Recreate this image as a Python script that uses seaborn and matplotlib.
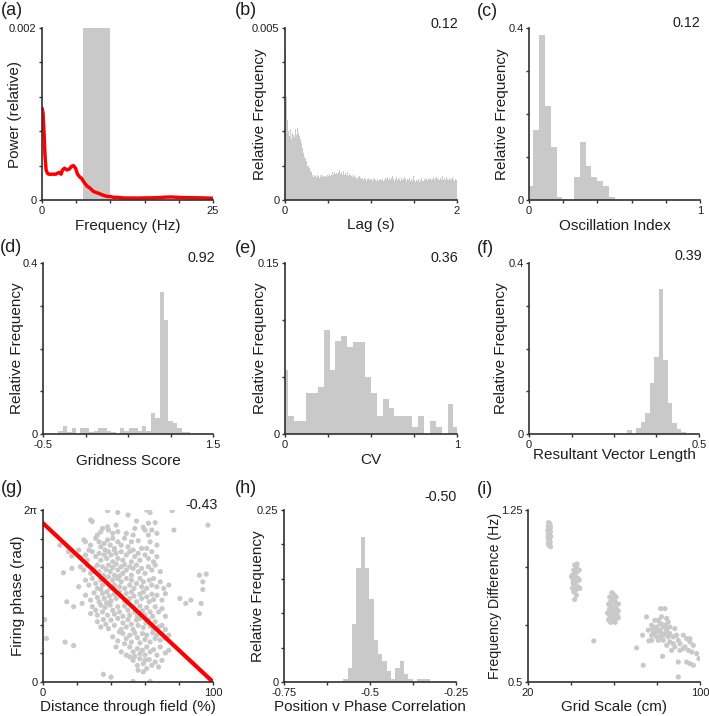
import numpy as np
import pandas as pd
import matplotlib
matplotlib.use("Agg")
import matplotlib.pyplot as plt
import seaborn as sns

# ---------------- data ----------------
# (a) power spectrum
freq_hz = [0, 0.15, 0.3, 0.45, 0.6, 0.8, 1.0, 1.5, 2.0, 2.5, 2.8, 3.0, 3.3, 3.6, 4.0,
           4.3, 4.6, 4.9, 5.2, 5.5, 5.8, 6.2, 6.6, 7.0, 7.5, 8.0, 8.5, 9.0, 9.5, 10.0,
           10.5, 11.0, 12, 13, 14, 15, 16, 17, 18, 19, 20, 21, 22, 23, 24, 25]
power_e4 = [10.7, 10.1, 7.8, 5.0, 3.5, 3.1, 3.0, 3.0, 3.0, 3.2, 3.0, 3.5, 3.7, 3.5, 3.6,
            3.9, 4.0, 3.7, 3.0, 2.7, 2.5, 2.0, 1.6, 1.4, 1.0, 0.85, 0.7, 0.54, 0.43, 0.39,
            0.31, 0.31, 0.23, 0.23, 0.22, 0.24, 0.25, 0.27, 0.33, 0.35, 0.30, 0.27, 0.26,
            0.25, 0.23, 0.20]
theta_band = (6, 10)

# (b) spike autocorrelogram, 0.01 s bins (values x 1e-5)
lag_bin = 0.01
lag_e5 = [437, 300, 233, 190, 200, 185, 205, 178, 195, 188,
          198, 182, 207, 190, 210, 195, 185, 200, 178, 165,
          150, 138, 125, 118, 112, 105, 100, 98, 92, 85,
          80, 72, 76, 68, 74, 70, 66, 73, 69, 71,
          65, 72, 68, 74, 66, 70, 64, 71, 67, 73,
          69, 75, 70, 78, 72, 80, 74, 82, 76, 79,
          84, 75, 80, 86, 77, 82, 73, 79, 85, 74,
          78, 72, 81, 70, 76, 68, 74, 71, 66, 73,
          69, 64, 70, 67, 62, 68, 71, 65, 60, 66,
          63, 58, 65, 61, 56, 62, 59, 64, 57, 60,
          62, 55, 60, 57, 63, 58, 54, 61, 56, 59,
          53, 60, 57, 62, 55, 58, 64, 56, 61, 68,
          59, 65, 57, 63, 70, 58, 62, 55, 60, 66,
          57, 63, 72, 60, 56, 64, 59, 61, 67, 58,
          62, 55, 60, 57, 63, 54, 59, 61, 56, 70,
          58, 52, 57, 62, 55, 60, 53, 58, 63, 56,
          59, 54, 61, 57, 64, 58, 62, 56, 60, 65,
          57, 61, 66, 58, 63, 55, 68, 60, 62, 57,
          64, 59, 61, 70, 58, 63, 57, 66, 60, 72,
          59, 64, 57, 62, 66, 58, 61, 55, 60, 58]

# (c) oscillation index
osc_start, osc_width = -0.009, 0.034
osc_freq = [0.033, 0.163, 0.383, 0.219, 0.124, 0.006, 0, 0, 0.054, 0.136, 0.08,
            0.054, 0.045, 0.033, 0.006]

# (d) gridness score
grid_start, grid_width = -0.318, 0.0517
grid_freq = [0.008, 0.019, 0.004, 0.013, 0, 0.013, 0.013, 0.004, 0.008, 0.013,
             0.013, 0.008, 0.004, 0, 0.013, 0.008, 0.013, 0.013, 0.008, 0.019,
             0.008, 0.049, 0.037, 0.332, 0.267, 0.030, 0.025, 0.013, 0.004, 0.004]

# (e) CV
cv_start, cv_width = -0.0153, 0.0343
cv_freq = [0.056, 0.016, 0.011, 0.011, 0.036, 0.036, 0.041, 0.091, 0.056, 0.082,
           0.086, 0.076, 0.081, 0.081, 0.05, 0.036, 0.016, 0.031, 0.023, 0.016,
           0.016, 0.016, 0.006, 0.016, 0, 0.011, 0.006, 0, 0.026, 0.006]

# (f) resultant vector length
rvl_start, rvl_width = 0.289, 0.0132
rvl_freq = [0.009, 0, 0.014, 0.028, 0.049, 0.119, 0.179, 0.34, 0.174, 0.073,
            0.026, 0.0125, 0.005]

# (h) position v phase correlation
pvp_start, pvp_width = -0.5776, 0.0126
pvp_freq = [0.004, 0.020, 0.085, 0.165, 0.211, 0.165, 0.12, 0.0605, 0.040, 0.030,
            0.0155, 0.004, 0.020, 0.030, 0.011, 0.004, 0, 0.004, 0.004, 0.004]

# (g) phase precession scatter: (distance %, phase rad)
g_points = [
    (38, 6.26), (44, 6.19), (50, 6.10), (61, 6.28), (63, 6.19), (76, 6.26), (28, 5.92), (29, 5.86),
    (55, 5.88), (62, 5.80), (66, 5.82),
    (43, 5.73), (38, 5.67), (38.5, 5.55), (34, 5.49), (35, 5.61), (44, 5.49), (49, 5.43), (54, 5.61),
    (59, 5.65), (60, 5.55), (64, 5.55), (77, 5.55), (97, 5.73), (41, 5.43), (32, 5.37), (53, 5.37),
    (62, 5.37), (67, 5.43),
    (10, 5.00), (15, 4.88), (24, 5.19), (25, 5.12), (28, 5.00), (31, 5.25), (33, 5.12), (34, 4.94),
    (36, 5.06), (38, 5.19), (39.5, 5.00), (41, 5.25), (42, 4.88), (44, 5.12), (46, 5.00), (48, 5.25),
    (50, 4.94), (52, 5.12), (56, 5.16), (58, 4.88), (61, 4.88), (63, 5.12), (67, 5.00), (27, 4.82),
    (21, 4.82),
    (15, 4.76), (17, 4.60), (22, 4.55), (25, 4.64), (26, 4.45), (29, 4.76), (31, 4.58), (33, 4.70),
    (34, 4.45), (36, 4.64), (37.5, 4.51), (38.5, 4.76), (40, 4.64), (41, 4.39), (43, 4.70), (44, 4.51),
    (46, 4.76), (47, 4.45), (49, 4.64), (51, 4.76), (52, 4.39), (54, 4.58), (56, 4.70), (57, 4.45),
    (60, 4.64), (62, 4.51), (64, 4.76), (65, 4.39), (67, 4.58), (42, 4.82), (36.5, 4.82), (53, 4.82),
    (12, 3.99), (17, 4.15), (22, 4.21), (24, 4.09), (26, 4.27), (28, 3.97), (30, 4.15), (32, 4.27),
    (33, 4.03), (35, 4.21), (35.5, 3.90), (37, 4.11), (38.5, 4.27), (39.5, 4.03), (41, 4.18), (42, 3.90),
    (43, 4.31), (44, 4.09), (46, 4.21), (47, 3.97), (48, 4.29), (49, 4.09), (51, 4.21), (52, 3.90),
    (53, 4.15), (55, 4.27), (56, 4.03), (58, 4.15), (60, 3.97), (62, 4.21), (64, 4.09), (66, 4.27),
    (69, 4.03), (92, 3.90), (96, 3.94), (94, 3.66), (38.5, 3.84), (45, 3.87),
    (21, 3.48), (25, 3.72), (27, 3.54), (29, 3.78), (31, 3.60), (32, 3.42), (34, 3.72), (35, 3.54),
    (36.5, 3.78), (38, 3.60), (39.5, 3.42), (41, 3.72), (42, 3.54), (44, 3.78), (45, 3.48), (46, 3.66),
    (48, 3.42), (49, 3.78), (51, 3.54), (52, 3.72), (53.5, 3.42), (55, 3.60), (57, 3.78), (58, 3.48),
    (59, 3.66), (61, 3.42), (62.5, 3.72), (64, 3.54), (65, 3.78), (67, 3.48), (69, 3.66), (71, 3.42),
    (74, 3.54), (94, 3.38), (34, 3.38), (42, 3.38),
    (25, 3.17), (28, 2.99), (30, 3.26), (32, 3.09), (33, 2.93), (35, 3.23), (36, 3.05), (37.5, 3.29),
    (39, 3.14), (40, 2.96), (42, 3.21), (43, 3.05), (45, 3.29), (46, 3.14), (48, 2.96), (49, 3.23),
    (51, 3.05), (52, 3.29), (53.5, 3.14), (55, 2.93), (57, 3.21), (58, 3.05), (59, 3.29), (61, 3.11),
    (62.5, 2.93), (64, 3.21), (65, 3.01), (67, 3.17), (70, 2.99), (72, 3.23), (80.5, 3.05), (87, 2.99),
    (93, 2.87), (49, 2.89), (37.5, 2.89),
    (18, 2.75), (23, 2.87), (28, 2.50), (29, 2.75), (31, 2.62), (32, 2.44), (34, 2.81), (35, 2.56),
    (36.5, 2.72), (38, 2.44), (39.5, 2.81), (41, 2.62), (42, 2.48), (44, 2.75), (45, 2.56), (47, 2.40),
    (48, 2.77), (50, 2.62), (51, 2.44), (53, 2.75), (54, 2.56), (55.5, 2.40), (57, 2.77), (58.5, 2.60),
    (60, 2.44), (61, 2.72), (63, 2.56), (64.5, 2.40), (66, 2.75), (68, 2.56), (70, 2.68), (72, 2.40),
    (84, 2.87), (92, 2.50), (14, 2.93),
    (32, 2.20), (34, 2.01), (35.5, 2.28), (37, 2.11), (38.5, 1.95), (40, 2.26), (42, 2.07), (44, 2.32),
    (46, 1.92), (47, 2.16), (49, 2.01), (50, 2.28), (52, 2.11), (53, 1.92), (55, 2.26), (56, 2.07),
    (57, 2.32), (59, 1.99), (60.5, 2.16), (62, 2.28), (63, 2.04), (65, 1.92), (66, 2.20), (68, 2.01),
    (70, 2.07), (72, 1.92), (1, 2.28),
    (13, 1.46), (41, 1.65), (44, 1.50), (47, 1.77), (49, 1.59), (51, 1.71), (52, 1.46), (54, 1.79),
    (55.5, 1.62), (57, 1.43), (58.5, 1.77), (60, 1.55), (61, 1.71), (63, 1.46), (64.5, 1.79), (66, 1.59),
    (67, 1.71), (69, 1.53), (70, 1.77), (72, 1.59), (74, 1.71), (48, 1.40), (45, 1.83), (2, 1.59),
    (18, 1.33), (43, 1.28), (46, 1.10), (49, 0.98), (51, 1.28), (53, 1.10), (54, 0.94), (55.5, 1.22),
    (57, 1.04), (58.5, 1.16), (60, 0.98), (61, 1.28), (63, 1.10), (65, 1.18), (67, 0.98), (69, 1.28),
    (72, 1.06), (74, 1.16), (51, 0.92),
    (53, 0.79), (55.5, 0.61), (57, 0.85), (59, 0.67), (61, 0.49), (62.5, 0.82), (64, 0.61), (66, 0.73),
    (68, 0.55), (70, 0.79), (60, 0.79), (56, 0.43),
    (35.5, 0.28), (40, 0.18), (53, 0.02), (63, 0.02), (59, 0.37),
]
fit_x = [0, 100]
fit_y = [5.80, 0.0]

# (i) grid scale vs frequency difference: (cm, Hz)
i_points = [
    (29.6, 1.195), (30.2, 1.19), (29.4, 1.18), (30.5, 1.175), (29.8, 1.17), (29.2, 1.16), (30.4, 1.155),
    (29.9, 1.15), (29.5, 1.14), (30.6, 1.135), (29.3, 1.13), (30.1, 1.125), (29.7, 1.12), (30.3, 1.11),
    (29.4, 1.105), (30.0, 1.10), (29.8, 1.095), (30.5, 1.09), (29.6, 1.15), (30.2, 1.165),
    (41.7, 1.010), (42.5, 1.002), (41.3, 0.988), (42.8, 0.981), (40.7, 0.966), (42.2, 0.959), (43.3, 0.951),
    (41.0, 0.944), (42.5, 0.937), (41.7, 0.922), (43.3, 0.915), (40.7, 0.908), (42.2, 0.900), (44.1, 0.908),
    (41.3, 0.893), (42.5, 0.879), (41.7, 0.860), (40.2, 0.959), (43.8, 0.988), (41.9, 0.973), (42.8, 1.014),
    (41.0, 0.930), (43.8, 0.944),
    (59, 0.89), (60, 0.88), (58, 0.87), (61, 0.87), (59.5, 0.86), (58.5, 0.85), (60.5, 0.85), (62, 0.84),
    (57.5, 0.84), (59, 0.83), (60, 0.83), (61, 0.82), (58, 0.82), (59.5, 0.81), (62, 0.81), (57, 0.80),
    (58.5, 0.80), (60.5, 0.80), (61.5, 0.79), (59, 0.79), (58, 0.78), (60, 0.78), (62, 0.78), (59, 0.77),
    (57.5, 0.77), (60.5, 0.76), (58.5, 0.76), (61, 0.775), (59.5, 0.795), (57.5, 0.805), (60, 0.815),
    (50.6, 0.679),
    (75.1, 0.784), (77.5, 0.748), (73.3, 0.704), (70.5, 0.649), (73.6, 0.573), (76.2, 0.679), (79.0, 0.769),
    (79.8, 0.740), (80.6, 0.769), (81.4, 0.726), (82.1, 0.752), (81.7, 0.820), (83.7, 0.820), (82.9, 0.704),
    (84.5, 0.726), (85.2, 0.697), (79.8, 0.697), (78.3, 0.711), (77.5, 0.704), (80.6, 0.682), (82.9, 0.682),
    (86.0, 0.675), (84.5, 0.660), (82.6, 0.612), (87.6, 0.667), (89.1, 0.704), (89.9, 0.682), (88.3, 0.653),
    (90.7, 0.667), (92.2, 0.704), (93.8, 0.689), (93.0, 0.653), (95.3, 0.675), (96.9, 0.660), (96.1, 0.631),
    (98.4, 0.624), (99.5, 0.602), (95.3, 0.689), (89.9, 0.587), (93.8, 0.587), (95.3, 0.580), (96.9, 0.573),
    (89.9, 0.522), (92.2, 0.646), (86.8, 0.638), (90.7, 0.638), (94.6, 0.638), (87.6, 0.697), (86.0, 0.740),
    (88.3, 0.733), (85.2, 0.762), (83.7, 0.748), (80.6, 0.726), (82.1, 0.711), (79.0, 0.733), (77.9, 0.729),
    (81.4, 0.755), (83.7, 0.711), (84.8, 0.740), (86.0, 0.711), (81.4, 0.697), (79.8, 0.718), (82.9, 0.740),
    (84.5, 0.777), (82.1, 0.784), (77.5, 0.682), (75.9, 0.726),
]

# ---------------- style ----------------
sns.set_style("ticks")
plt.rcParams["font.family"] = ["Liberation Sans", "DejaVu Sans"]
TXT = "#1e1e1e"
SPINE = "#303030"
GRAY = "#c9c9c9"
RED = "#ff0000"

W, H = 709, 716
fig = plt.figure(figsize=(W / 100, H / 100), dpi=100)


def add_ax(l, t, r, b):
    return fig.add_axes([l / W, 1 - b / H, (r - l) / W, (b - t) / H])


def style(ax, xlim, ylim, xticks, xlabels, yticks, ylabels, xlabel, ylabel, ylab_x, xlab_y,
          ylab_size=11):
    ax.set_xlim(xlim)
    ax.set_ylim(ylim)
    ax.set_xticks(xticks)
    ax.set_xticklabels(xlabels)
    ax.set_yticks(yticks)
    ax.set_yticklabels(ylabels)
    for s in ["top", "right"]:
        ax.spines[s].set_visible(False)
    for s in ["left", "bottom"]:
        ax.spines[s].set_linewidth(1.2)
        ax.spines[s].set_color(SPINE)
    ax.tick_params(length=2.5, width=1.0, pad=1.5, labelsize=8, color=SPINE, labelcolor=TXT)
    ax.set_xlabel(xlabel, fontsize=11, color=TXT)
    ax.set_ylabel(ylabel, fontsize=ylab_size, color=TXT)
    ax.xaxis.label.set_va("center")
    ax.yaxis.label.set_va("center")
    ax.xaxis.set_label_coords(0.5, xlab_y)
    ax.yaxis.set_label_coords(ylab_x, 0.5)
    ax.grid(False)


def labels_ends(ticks, first, last):
    return [first] + [""] * (len(ticks) - 2) + [last]


def hist(ax, start, width, freqs):
    edges = start + width * np.arange(len(freqs) + 1)
    centers = edges[:-1] + width / 2
    df = pd.DataFrame({"x": centers, "w": freqs})
    sns.histplot(data=df, x="x", weights="w", bins=edges.tolist(), ax=ax, color=GRAY,
                 alpha=1, edgecolor="none", linewidth=0, stat="count")


def note(ax, txt, dx, dy):
    ax.text(1.0 + dx, 1.0 + dy, txt, transform=ax.transAxes, ha="right", va="baseline",
            fontsize=10.3, color=TXT)


def panel_label(x, y, s):
    fig.text(x / W, 1 - y / H, s, fontsize=13, ha="left", va="top", color=TXT)


# (a)
ax = add_ax(42, 28, 213, 200)
ax.axvspan(theta_band[0], theta_band[1], color=GRAY, lw=0, zorder=0)
df_a = pd.DataFrame({"f": freq_hz, "p": np.array(power_e4) * 1e-4})
sns.lineplot(data=df_a, x="f", y="p", ax=ax, color=RED, linewidth=2.5, sort=False, estimator=None)
xt = [0, 5, 10, 15, 20, 25]
yt = [0, 0.0004, 0.0008, 0.0012, 0.0016, 0.002]
style(ax, (0, 25), (0, 0.002), xt, labels_ends(xt, "0", "25"), yt, labels_ends(yt, "0", "0.002"),
      "Frequency (Hz)", "Power (relative)", -0.158, -0.154)

# (b)
ax = add_ax(285, 28, 457, 200)
hist(ax, 0.0, lag_bin, np.array(lag_e5) * 1e-5)
xt = [0, 0.5, 1, 1.5, 2]
yt = [0, 0.001, 0.002, 0.003, 0.004, 0.005]
style(ax, (0, 2), (0, 0.005), xt, labels_ends(xt, "0", "2"), yt, labels_ends(yt, "0", "0.005"),
      "Lag (s)", "Relative Frequency", -0.145, -0.148)
note(ax, "0.12", 0.005, 0.0)

# (c)
ax = add_ax(529, 28, 700, 200)
hist(ax, osc_start, osc_width, osc_freq)
xt = [0, 0.2, 0.4, 0.6, 0.8, 1.0]
yt = [0, 0.1, 0.2, 0.3, 0.4]
style(ax, (0, 1), (0, 0.4), xt, labels_ends(xt, "0", "1"), yt, labels_ends(yt, "0", "0.4"),
      "Oscillation Index", "Relative Frequency", -0.16, -0.15)
note(ax, "0.12", 0.0, 0.006)

# (d)
ax = add_ax(43, 263, 213, 434)
hist(ax, grid_start, grid_width, grid_freq)
xt = [-0.5, 0, 0.5, 1.0, 1.5]
style(ax, (-0.5, 1.5), (0, 0.4), xt, labels_ends(xt, "-0.5", "1.5"), yt, labels_ends(yt, "0", "0.4"),
      "Gridness Score", "Relative Frequency", -0.155, -0.157)
note(ax, "0.92", 0.015, 0.004)

# (e)
ax = add_ax(285, 263, 457, 434)
hist(ax, cv_start, cv_width, cv_freq)
xt = [0, 0.25, 0.5, 0.75, 1.0]
yt2 = [0, 0.05, 0.1, 0.15]
style(ax, (0, 1), (0, 0.15), xt, labels_ends(xt, "0", "1"), yt2, labels_ends(yt2, "0", "0.15"),
      "CV", "Relative Frequency", -0.145, -0.15)
note(ax, "0.36", 0.005, 0.004)

# (f)
ax = add_ax(529, 263, 699, 434)
hist(ax, rvl_start, rvl_width, rvl_freq)
xt = [0, 0.125, 0.25, 0.375, 0.5]
style(ax, (0, 0.5), (0, 0.4), xt, labels_ends(xt, "0", "0.5"), yt, labels_ends(yt, "0", "0.4"),
      "Resultant Vector Length", "Relative Frequency", -0.166, -0.12)
note(ax, "0.39", 0.016, 0.017)

# (g)
ax = add_ax(43, 510, 213, 682)
df_g = pd.DataFrame(g_points, columns=["dist", "phase"])
sns.scatterplot(data=df_g, x="dist", y="phase", ax=ax, color=GRAY, s=14, linewidth=0, edgecolor="none")
sns.lineplot(x=fit_x, y=fit_y, ax=ax, color=RED, linewidth=3.0)
xt = [0, 20, 40, 60, 80, 100]
ytg = [k * 2 * np.pi / 6 for k in range(7)]
style(ax, (0, 100), (0, 2 * np.pi), xt, labels_ends(xt, "0", "100"), ytg, labels_ends(ytg, "0", "2π"),
      "Distance through field (%)", "Firing phase (rad)", -0.147, -0.144)
note(ax, "-0.43", 0.03, 0.006)

# (h)
ax = add_ax(284, 510, 456, 682)
hist(ax, pvp_start, pvp_width, pvp_freq)
xt = [-0.75, -0.625, -0.5, -0.375, -0.25]
yth = [0, 0.05, 0.1, 0.15, 0.2, 0.25]
style(ax, (-0.75, -0.25), (0, 0.25), xt, ["-0.75", "", "-0.5", "", "-0.25"], yth,
      labels_ends(yth, "0", "0.25"), "Position v Phase Correlation", "Relative Frequency", -0.151, -0.145)
note(ax, "-0.50", 0.004, 0.054)

# (i)
ax = add_ax(528, 510, 700, 682)
df_i = pd.DataFrame(i_points, columns=["scale", "fdiff"])
sns.scatterplot(data=df_i, x="scale", y="fdiff", ax=ax, color=GRAY, s=14, linewidth=0, edgecolor="none")
xt = [20, 40, 60, 80, 100]
yti = [0.5, 0.75, 1.0, 1.25]
style(ax, (20, 100), (0.5, 1.25), xt, labels_ends(xt, "20", "100"), yti, labels_ends(yti, "0.5", "1.25"),
      "Grid Scale (cm)", "Frequency Difference (Hz)", -0.19, -0.145, ylab_size=10.2)

# panel labels
panel_label(1, 2, "(a)")
panel_label(235, 2, "(b)")
panel_label(477, 3, "(c)")
panel_label(0, 239, "(d)")
panel_label(235, 240, "(e)")
panel_label(477, 240, "(f)")
panel_label(1, 480, "(g)")
panel_label(235, 480, "(h)")
panel_label(477, 481, "(i)")

fig.savefig("out.png", dpi=100)
